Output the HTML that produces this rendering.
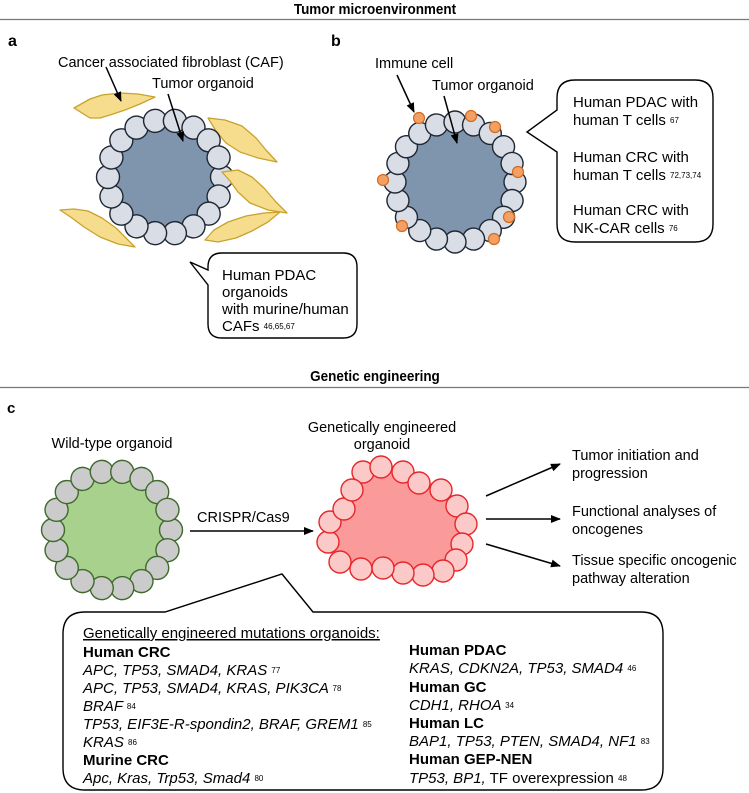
<!DOCTYPE html>
<html><head><meta charset="utf-8"><style>
html,body{margin:0;padding:0;background:#fff}
svg{display:block;font-family:"Liberation Sans",Arial,sans-serif}
</style></head><body>
<svg width="749" height="793" viewBox="0 0 749 793" xmlns="http://www.w3.org/2000/svg">
<defs>
<marker id="ah" markerWidth="10" markerHeight="8" refX="9" refY="4" orient="auto" markerUnits="userSpaceOnUse"><path d="M0,0 L10,4 L0,8 z" fill="#000"/></marker>
</defs>
<!-- headers -->
<text x="375" y="14" text-anchor="middle" font-size="15" font-weight="bold" transform="translate(375,0) scale(0.9,1) translate(-375,0)">Tumor microenvironment</text>
<line x1="0" y1="19.5" x2="749" y2="19.5" stroke="#777" stroke-width="1.2"/>
<text x="375" y="381" text-anchor="middle" font-size="15" font-weight="bold" transform="translate(375,0) scale(0.9,1) translate(-375,0)">Genetic engineering</text>
<line x1="0" y1="387.5" x2="749" y2="387.5" stroke="#777" stroke-width="1.2"/>
<text x="8" y="46" font-size="16" font-weight="bold">a</text>
<text x="331" y="46" font-size="16" font-weight="bold">b</text>
<text x="7" y="413" font-size="15" font-weight="bold">c</text>

<!-- panel a -->
<g fill="#f6dd8e" stroke="#c9a22c" stroke-width="1.3" stroke-linejoin="round">
<path d="M74,108 L90,99 L102,95 L120,93 L138,94 L155,97 L140,104 L125,110 L110,115 L100,118 L90,118 Z"/>
<path d="M208,118 L225,120 L242,126 L256,138 L266,150 L277,162 L258,158 L240,152 L226,143 L216,131 Z"/>
<path d="M60,210 L74,209 L88,211 L102,218 L116,228 L126,238 L135,247 L118,244 L100,237 L84,227 L72,218 Z"/>
</g>
<circle cx="165" cy="177" r="57" fill="#7f95ad"/>
<g transform="translate(165,177)" fill="#d8dde6" stroke="#1f2733" stroke-width="1.4">
<circle cx="57" cy="0" r="11.5"/><circle cx="57" cy="0" r="11.5" transform="rotate(20)"/><circle cx="57" cy="0" r="11.5" transform="rotate(40)"/><circle cx="57" cy="0" r="11.5" transform="rotate(60)"/><circle cx="57" cy="0" r="11.5" transform="rotate(80)"/><circle cx="57" cy="0" r="11.5" transform="rotate(100)"/><circle cx="57" cy="0" r="11.5" transform="rotate(120)"/><circle cx="57" cy="0" r="11.5" transform="rotate(140)"/><circle cx="57" cy="0" r="11.5" transform="rotate(160)"/><circle cx="57" cy="0" r="11.5" transform="rotate(180)"/><circle cx="57" cy="0" r="11.5" transform="rotate(200)"/><circle cx="57" cy="0" r="11.5" transform="rotate(220)"/><circle cx="57" cy="0" r="11.5" transform="rotate(240)"/><circle cx="57" cy="0" r="11.5" transform="rotate(260)"/><circle cx="57" cy="0" r="11.5" transform="rotate(280)"/><circle cx="57" cy="0" r="11.5" transform="rotate(300)"/><circle cx="57" cy="0" r="11.5" transform="rotate(320)"/><circle cx="57" cy="0" r="11.5" transform="rotate(340)"/>
</g>
<g fill="#f6dd8e" stroke="#c9a22c" stroke-width="1.3" stroke-linejoin="round">
<path d="M222,172 L238,170 L252,177 L264,188 L276,202 L287,213 L268,210 L250,203 L238,192 L230,181 Z"/>
<path d="M205,240 L214,230 L228,222 L246,216 L264,213 L280,212 L268,222 L252,231 L236,238 L218,242 Z"/>
</g>
<text x="58" y="67" font-size="14.5">Cancer associated fibroblast (CAF)</text>
<text x="152" y="88" font-size="14.5">Tumor organoid</text>
<line x1="106" y1="67" x2="121" y2="101" stroke="#000" stroke-width="1.5" marker-end="url(#ah)"/>
<line x1="168" y1="94" x2="183" y2="141" stroke="#000" stroke-width="1.5" marker-end="url(#ah)"/>
<path d="M222,253 L343,253 Q357,253 357,267 L357,324 Q357,338 343,338 L222,338 Q208,338 208,324 L208,285 L190,262 L208,270 L208,267 Q208,253 222,253 Z" fill="#fff" stroke="#000" stroke-width="1.4"/>
<g font-size="15">
<text x="222" y="280">Human PDAC</text>
<text x="222" y="297">organoids</text>
<text x="222" y="314">with murine/human</text>
<text x="222" y="331">CAFs <tspan font-size="8" dy="-2">46,65,67</tspan></text>
</g>

<!-- panel b -->
<circle cx="455" cy="182" r="60" fill="#7f95ad"/>
<g transform="translate(455,182)" fill="#d8dde6" stroke="#1f2733" stroke-width="1.4">
<circle cx="60" cy="0" r="11"/><circle cx="60" cy="0" r="11" transform="rotate(18)"/><circle cx="60" cy="0" r="11" transform="rotate(36)"/><circle cx="60" cy="0" r="11" transform="rotate(54)"/><circle cx="60" cy="0" r="11" transform="rotate(72)"/><circle cx="60" cy="0" r="11" transform="rotate(90)"/><circle cx="60" cy="0" r="11" transform="rotate(108)"/><circle cx="60" cy="0" r="11" transform="rotate(126)"/><circle cx="60" cy="0" r="11" transform="rotate(144)"/><circle cx="60" cy="0" r="11" transform="rotate(162)"/><circle cx="60" cy="0" r="11" transform="rotate(180)"/><circle cx="60" cy="0" r="11" transform="rotate(198)"/><circle cx="60" cy="0" r="11" transform="rotate(216)"/><circle cx="60" cy="0" r="11" transform="rotate(234)"/><circle cx="60" cy="0" r="11" transform="rotate(252)"/><circle cx="60" cy="0" r="11" transform="rotate(270)"/><circle cx="60" cy="0" r="11" transform="rotate(288)"/><circle cx="60" cy="0" r="11" transform="rotate(306)"/><circle cx="60" cy="0" r="11" transform="rotate(324)"/><circle cx="60" cy="0" r="11" transform="rotate(342)"/>
</g>
<g fill="#f2a064" stroke="#d66a1e" stroke-width="1.2">
<circle cx="419" cy="118" r="5.5"/><circle cx="471" cy="116" r="5.5"/><circle cx="495" cy="127" r="5.5"/><circle cx="518" cy="172" r="5.5"/><circle cx="383" cy="180" r="5.5"/><circle cx="509" cy="217" r="5.5"/><circle cx="402" cy="226" r="5.5"/><circle cx="494" cy="239" r="5.5"/>
</g>
<text x="375" y="68" font-size="14.5">Immune cell</text>
<text x="432" y="90" font-size="14.5">Tumor organoid</text>
<line x1="397" y1="75" x2="414" y2="112" stroke="#000" stroke-width="1.5" marker-end="url(#ah)"/>
<line x1="444" y1="96" x2="457" y2="143" stroke="#000" stroke-width="1.5" marker-end="url(#ah)"/>
<path d="M575,80 L695,80 Q713,80 713,98 L713,224 Q713,242 695,242 L575,242 Q557,242 557,224 L557,152 L527,132 L557,110 L557,98 Q557,80 575,80 Z" fill="#fff" stroke="#000" stroke-width="1.4"/>
<g font-size="15">
<text x="573" y="107">Human PDAC with</text>
<text x="573" y="125">human T cells <tspan font-size="8" dy="-2">67</tspan></text>
<text x="573" y="162">Human CRC with</text>
<text x="573" y="180">human T cells <tspan font-size="8" dy="-2">72,73,74</tspan></text>
<text x="573" y="215">Human CRC with</text>
<text x="573" y="233">NK-CAR cells <tspan font-size="8" dy="-2">76</tspan></text>
</g>

<!-- panel c -->
<text x="112" y="448" text-anchor="middle" font-size="14.5">Wild-type organoid</text>
<circle cx="112" cy="530" r="59" fill="#a8d18d"/>
<g transform="translate(112,530)" fill="#cbcbcb" stroke="#3f6a2c" stroke-width="1.4">
<circle cx="59" cy="0" r="11.5"/><circle cx="59" cy="0" r="11.5" transform="rotate(20)"/><circle cx="59" cy="0" r="11.5" transform="rotate(40)"/><circle cx="59" cy="0" r="11.5" transform="rotate(60)"/><circle cx="59" cy="0" r="11.5" transform="rotate(80)"/><circle cx="59" cy="0" r="11.5" transform="rotate(100)"/><circle cx="59" cy="0" r="11.5" transform="rotate(120)"/><circle cx="59" cy="0" r="11.5" transform="rotate(140)"/><circle cx="59" cy="0" r="11.5" transform="rotate(160)"/><circle cx="59" cy="0" r="11.5" transform="rotate(180)"/><circle cx="59" cy="0" r="11.5" transform="rotate(200)"/><circle cx="59" cy="0" r="11.5" transform="rotate(220)"/><circle cx="59" cy="0" r="11.5" transform="rotate(240)"/><circle cx="59" cy="0" r="11.5" transform="rotate(260)"/><circle cx="59" cy="0" r="11.5" transform="rotate(280)"/><circle cx="59" cy="0" r="11.5" transform="rotate(300)"/><circle cx="59" cy="0" r="11.5" transform="rotate(320)"/><circle cx="59" cy="0" r="11.5" transform="rotate(340)"/>
</g>
<text x="197" y="522" font-size="14.5">CRISPR/Cas9</text>
<line x1="190" y1="531" x2="313" y2="531" stroke="#000" stroke-width="1.5" marker-end="url(#ah)"/>
<text x="382" y="432" text-anchor="middle" font-size="14.5">Genetically engineered</text>
<text x="382" y="449" text-anchor="middle" font-size="14.5">organoid</text>
<polygon points="363,472 381,467 403,472 419,483 441,490 457,506 466,524 462,544 456,560 443,571 423,575 403,573 383,568 361,569 340,562 328,542 330,522 344,509 352,490" fill="#fb9a9a" stroke="#fb9a9a" stroke-width="8"/>
<g fill="#fcc9c9" stroke="#e8262a" stroke-width="1.4">
<circle cx="363" cy="472" r="11"/><circle cx="381" cy="467" r="11"/><circle cx="403" cy="472" r="11"/><circle cx="419" cy="483" r="11"/><circle cx="441" cy="490" r="11"/><circle cx="457" cy="506" r="11"/><circle cx="466" cy="524" r="11"/><circle cx="462" cy="544" r="11"/><circle cx="456" cy="560" r="11"/><circle cx="443" cy="571" r="11"/><circle cx="423" cy="575" r="11"/><circle cx="403" cy="573" r="11"/><circle cx="383" cy="568" r="11"/><circle cx="361" cy="569" r="11"/><circle cx="340" cy="562" r="11"/><circle cx="328" cy="542" r="11"/><circle cx="330" cy="522" r="11"/><circle cx="344" cy="509" r="11"/><circle cx="352" cy="490" r="11"/>
</g>
<line x1="486" y1="496" x2="560" y2="464" stroke="#000" stroke-width="1.5" marker-end="url(#ah)"/>
<line x1="486" y1="519" x2="560" y2="519" stroke="#000" stroke-width="1.5" marker-end="url(#ah)"/>
<line x1="486" y1="544" x2="560" y2="566" stroke="#000" stroke-width="1.5" marker-end="url(#ah)"/>
<g font-size="14.5">
<text x="572" y="460">Tumor initiation and</text>
<text x="572" y="478">progression</text>
<text x="572" y="516">Functional analyses of</text>
<text x="572" y="534">oncogenes</text>
<text x="572" y="565">Tissue specific oncogenic</text>
<text x="572" y="583">pathway alteration</text>
</g>
<path d="M85,612 L165,612 L282,574 L313,612 L641,612 Q663,612 663,634 L663,768 Q663,790 641,790 L85,790 Q63,790 63,768 L63,634 Q63,612 85,612 Z" fill="#fff" stroke="#000" stroke-width="1.4"/>
<g font-size="15">
<text x="83" y="638" text-decoration="underline">Genetically engineered mutations organoids:</text>
<text x="83" y="657" font-weight="bold">Human CRC</text>
<text x="83" y="675" font-style="italic">APC, TP53, SMAD4, KRAS <tspan font-style="normal" font-size="8" dy="-2">77</tspan></text>
<text x="83" y="693" font-style="italic">APC, TP53, SMAD4, KRAS, PIK3CA <tspan font-style="normal" font-size="8" dy="-2">78</tspan></text>
<text x="83" y="711" font-style="italic">BRAF <tspan font-style="normal" font-size="8" dy="-2">84</tspan></text>
<text x="83" y="729" font-style="italic">TP53, EIF3E-R-spondin2, BRAF, GREM1 <tspan font-style="normal" font-size="8" dy="-2">85</tspan></text>
<text x="83" y="747" font-style="italic">KRAS <tspan font-style="normal" font-size="8" dy="-2">86</tspan></text>
<text x="83" y="765" font-weight="bold">Murine CRC</text>
<text x="83" y="783" font-style="italic">Apc, Kras, Trp53, Smad4 <tspan font-style="normal" font-size="8" dy="-2">80</tspan></text>
<text x="409" y="655" font-weight="bold">Human PDAC</text>
<text x="409" y="673" font-style="italic">KRAS, CDKN2A, TP53, SMAD4 <tspan font-style="normal" font-size="8" dy="-2">46</tspan></text>
<text x="409" y="692" font-weight="bold">Human GC</text>
<text x="409" y="710" font-style="italic">CDH1, RHOA <tspan font-style="normal" font-size="8" dy="-2">34</tspan></text>
<text x="409" y="728" font-weight="bold">Human LC</text>
<text x="409" y="746" font-style="italic">BAP1, TP53, PTEN, SMAD4, NF1 <tspan font-style="normal" font-size="8" dy="-2">83</tspan></text>
<text x="409" y="764" font-weight="bold">Human GEP-NEN</text>
<text x="409" y="783"><tspan font-style="italic">TP53, BP1,</tspan> TF overexpression <tspan font-size="8" dy="-2">48</tspan></text>
</g>
</svg>
</body></html>
